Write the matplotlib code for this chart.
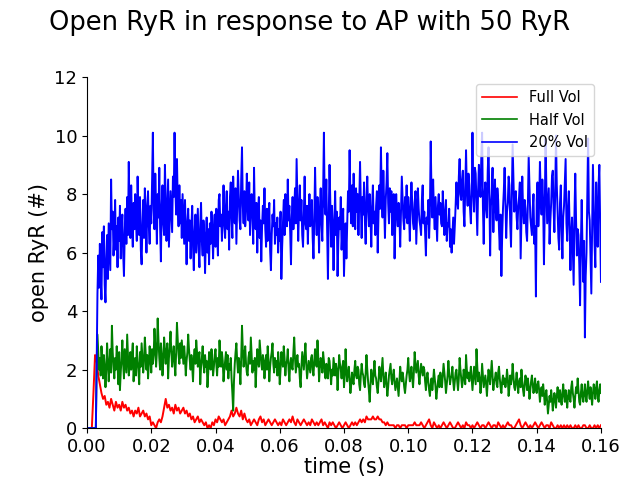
import numpy as np
import matplotlib
matplotlib.use("Agg")
import matplotlib.pyplot as plt

# time grids: 0.25 ms for the reduced-volume runs, 0.5 ms for full volume
t_fine = np.linspace(0, 0.16, 641)
t_coarse = np.linspace(0, 0.16, 321)

# mean number of open RyR, full cleft volume
full_vol = [
    0, 0, 0, 0, 1.2, 2.5, 2.3, 1.8, 1.5, 1.2, 1.0, 1.1, 0.8, 0.9, 0.7, 1.0, 0.8, 0.6, 0.9, 0.7,
    0.8, 0.6, 0.9, 0.7, 0.8, 0.6, 0.7, 0.5, 0.6, 0.4, 0.6, 0.5, 0.7, 0.4, 0.5, 0.6, 0.4, 0.5, 0.3, 0.4,
    0.1, 0.2, 0.1, 0.0, 0.2, 0.3, 0.2, 0.4, 0.7, 1.0, 0.7, 0.8, 0.6, 0.7, 0.5, 0.8, 0.6, 0.7, 0.5, 0.6,
    0.7, 0.5, 0.6, 0.4, 0.5, 0.3, 0.4, 0.2, 0.3, 0.4, 0.2, 0.3, 0.2, 0.1, 0.2, 0.0, 0.1, 0.0, 0.2, 0.1,
    0.3, 0.2, 0.4, 0.3, 0.2, 0.3, 0.1, 0.2, 0.3, 0.4, 0.6, 0.4, 0.5, 0.7, 0.5, 0.4, 0.6, 0.3, 0.5, 0.3,
    0.2, 0.3, 0.1, 0.2, 0.3, 0.2, 0.1, 0.3, 0.4, 0.2, 0.3, 0.1, 0.2, 0.3, 0.2, 0.1, 0.2, 0.3, 0.2, 0.1,
    0.2, 0.1, 0.3, 0.2, 0.1, 0.2, 0.3, 0.2, 0.4, 0.2, 0.1, 0.3, 0.2, 0.1, 0.2, 0.3, 0.2, 0.1, 0.2, 0.1,
    0.3, 0.2, 0.1, 0.2, 0.1, 0.2, 0.3, 0.1, 0.2, 0.1, 0.0, 0.2, 0.1, 0.2, 0.1, 0.0, 0.1, 0.2, 0.1, 0.0,
    0.1, 0.2, 0.1, 0.0, 0.1, 0.2, 0.1, 0.2, 0.1, 0.2, 0.3, 0.2, 0.3, 0.2, 0.4, 0.3, 0.3, 0.3, 0.4, 0.3,
    0.3, 0.4, 0.3, 0.3, 0.2, 0.2, 0.1, 0.2, 0.1, 0.1, 0.1, 0.1, 0.0, 0.1, 0.1, 0.0, 0.1, 0.1, 0.1, 0.0,
    0.1, 0.1, 0.1, 0.1, 0.2, 0.1, 0.1, 0.1, 0.2, 0.1, 0.0, 0.1, 0.2, 0.3, 0.1, 0.0, 0.2, 0.1, 0.0, 0.1,
    0.0, 0.1, 0.2, 0.1, 0.0, 0.1, 0.2, 0.1, 0.0, 0.0, 0.1, 0.2, 0.1, 0.0, 0.1, 0.0, 0.2, 0.1, 0.1, 0.0,
    0.1, 0.0, 0.1, 0.2, 0.1, 0.0, 0.1, 0.1, 0.0, 0.1, 0.2, 0.1, 0.0, 0.1, 0.1, 0.0, 0.2, 0.1, 0.0, 0.1,
    0.0, 0.1, 0.2, 0.1, 0.1, 0.0, 0.0, 0.1, 0.2, 0.3, 0.1, 0.0, 0.1, 0.2, 0.1, 0.0, 0.1, 0.0, 0.1, 0.2,
    0.1, 0.0, 0.1, 0.2, 0.1, 0.0, 0.1, 0.1, 0.0, 0.2, 0.1, 0.0, 0.0, 0.1, 0.0, 0.1, 0.0, 0.1, 0.0, 0.1,
    0.0, 0.1, 0.0, 0.0, 0.1, 0.0, 0.1, 0.0, 0.0, 0.1, 0.1, 0.0, 0.0, 0.1, 0.0, 0.0, 0.1, 0.0, 0.1, 0.0,
    0.1,
]

# half cleft volume
half_vol = [
    0, 0, 0, 0, 0, 0, 0, 0, 0, 0, 0, 0, 2.2, 3.2, 2.6, 2.0, 2.4, 1.8, 2.8, 2.3,
    1.7, 2.5, 2.1, 1.4, 2.0, 2.9, 2.3, 1.6, 2.2, 2.7, 1.9, 3.5, 2.6, 2.1, 1.7, 2.4, 2.0, 2.8, 2.2, 1.5,
    2.6, 1.3, 1.9, 2.4, 3.0, 2.2, 1.7, 2.7, 2.3, 1.9, 3.2, 2.5, 1.8, 2.1, 2.6, 2.0, 2.5, 2.9, 1.6, 2.2,
    2.4, 1.8, 2.8, 2.3, 2.0, 1.5, 2.6, 2.1, 2.9, 2.4, 1.9, 2.3, 3.1, 2.6, 2.0, 2.5, 1.7, 2.2, 2.8, 2.4,
    1.9, 2.7, 2.2, 2.5, 3.4, 2.8, 2.1, 2.6, 3.75, 3.0, 2.4, 2.0, 2.9, 2.5, 1.8, 2.3, 3.1, 2.7, 2.2, 2.6,
    2.9, 1.7, 2.4, 2.8, 3.3, 2.6, 2.1, 2.5, 2.8, 2.2, 1.8, 2.6, 3.6, 3.0, 2.5, 2.2, 2.9, 2.4, 3.0, 2.6,
    2.2, 2.8, 2.4, 1.8, 2.3, 2.6, 3.2, 2.7, 2.3, 2.0, 2.5, 2.1, 1.6, 2.4, 2.7, 2.2, 3.0, 2.6, 2.1, 2.4,
    2.6, 1.5, 2.1, 2.4, 2.8, 2.2, 1.9, 2.5, 2.1, 2.3, 1.4, 1.9, 2.6, 2.2, 2.0, 2.7, 2.3, 1.8, 2.1, 2.5,
    2.7, 2.2, 1.8, 2.4, 2.1, 3.0, 2.5, 2.1, 2.6, 2.3, 1.6, 2.0, 2.3, 2.6, 2.0, 2.5, 1.7, 2.2, 2.0, 2.4,
    1.7, 1.2, 0.6, 1.6, 2.2, 2.6, 2.9, 2.3, 1.9, 2.4, 2.1, 1.5, 2.4, 3.5, 2.7, 2.1, 2.5, 2.8, 2.2, 1.9,
    1.8, 2.4, 2.6, 2.2, 3.1, 2.5, 1.9, 2.3, 2.0, 2.4, 1.4, 2.1, 2.7, 2.3, 2.1, 3.0, 2.6, 2.2, 2.0, 2.5,
    2.3, 1.7, 2.2, 2.5, 2.0, 2.8, 2.3, 1.6, 2.1, 2.4, 2.6, 2.9, 2.2, 1.9, 2.4, 2.1, 2.3, 1.8, 2.6, 2.2,
    1.5, 2.0, 2.6, 2.3, 2.1, 2.8, 2.4, 1.8, 2.2, 2.3, 2.7, 2.0, 1.6, 2.2, 2.4, 2.1, 2.0, 2.6, 3.1, 2.4,
    1.9, 2.2, 2.5, 2.1, 2.2, 1.7, 1.4, 2.1, 2.6, 2.3, 2.0, 2.5, 2.9, 2.2, 1.7, 2.0, 2.3, 2.1, 1.9, 2.4,
    2.5, 2.0, 1.8, 2.3, 2.7, 2.2, 2.1, 3.0, 2.4, 1.6, 2.1, 2.4, 2.2, 1.9, 2.6, 2.3, 1.9, 1.7, 2.2, 2.0,
    1.7, 2.4, 2.3, 1.9, 1.5, 2.0, 1.8, 2.4, 2.1, 1.8, 2.2, 2.0, 1.3, 1.9, 2.5, 2.2, 2.0, 1.7, 2.1, 2.3,
    1.4, 1.8, 2.7, 2.0, 1.6, 1.9, 2.1, 1.7, 1.2, 1.5, 1.9, 1.6, 1.5, 2.0, 2.3, 1.8, 1.7, 2.1, 2.0, 1.5,
    1.3, 1.8, 2.2, 1.9, 1.8, 1.5, 1.4, 1.9, 2.5, 2.0, 1.6, 1.3, 0.9, 1.5, 2.0, 1.7, 1.5, 1.9, 2.3, 1.8,
    1.7, 1.4, 1.2, 1.6, 2.1, 1.9, 1.6, 2.0, 2.4, 1.8, 1.4, 1.6, 1.9, 1.5, 1.1, 1.4, 1.8, 2.0, 2.2, 1.7,
    1.5, 1.8, 2.0, 1.6, 1.3, 1.5, 1.7, 1.4, 1.1, 1.6, 2.1, 1.8, 1.6, 1.9, 1.7, 1.4, 1.2, 1.5, 1.8, 2.0,
    2.4, 1.9, 1.6, 1.8, 2.1, 1.7, 1.4, 1.9, 2.6, 2.2, 1.9, 2.1, 2.3, 1.8, 1.5, 1.9, 2.2, 2.0, 1.8, 2.1,
    2.0, 1.6, 1.3, 1.7, 1.9, 1.6, 1.3, 1.1, 1.5, 1.7, 1.3, 1.6, 2.0, 1.7, 1.4, 1.0, 1.3, 1.6, 1.8, 1.4,
    1.9, 1.6, 1.4, 1.8, 2.2, 1.9, 1.6, 1.2, 1.5, 1.8, 2.3, 1.9, 1.5, 1.7, 1.8, 2.1, 1.6, 1.3, 1.6, 1.9,
    2.0, 1.6, 1.3, 1.7, 2.4, 2.0, 1.7, 1.4, 1.6, 2.0, 1.8, 1.5, 2.5, 2.0, 1.7, 1.9, 1.6, 1.8, 2.1, 1.7,
    1.3, 1.7, 2.1, 1.8, 1.5, 2.7, 2.1, 1.6, 1.9, 1.7, 1.2, 1.6, 2.2, 1.8, 1.4, 1.6, 1.8, 1.5, 1.1, 1.6,
    2.0, 1.7, 1.5, 1.9, 2.3, 1.8, 1.3, 1.6, 1.7, 1.9, 1.5, 1.4, 1.9, 2.1, 1.7, 1.4, 1.2, 1.6, 1.8, 1.5,
    1.7, 1.4, 1.6, 2.0, 1.7, 1.1, 1.4, 1.8, 1.5, 1.7, 2.2, 1.8, 1.4, 1.3, 1.6, 1.9, 1.5, 1.2, 1.6, 1.7,
    1.4, 2.0, 1.6, 1.3, 1.1, 1.5, 1.8, 1.6, 1.3, 1.7, 1.4, 1.0, 1.3, 1.6, 1.8, 1.5, 1.2, 1.4, 1.7, 1.3,
    1.2, 1.5, 1.6, 1.3, 0.9, 1.2, 1.4, 1.1, 1.5, 1.2, 0.8, 1.1, 1.3, 0.9, 0.5, 0.8, 1.1, 0.9, 1.3, 1.0,
    0.6, 0.9, 1.2, 1.0, 0.7, 1.1, 1.4, 1.1, 0.9, 1.3, 1.0, 0.8, 1.2, 1.5, 1.1, 0.9, 1.3, 1.0, 0.7, 1.1,
    1.3, 1.0, 0.9, 1.4, 1.6, 1.2, 1.0, 0.7, 1.1, 1.4, 1.2, 1.7, 1.3, 0.9, 0.8, 1.2, 1.5, 1.1, 0.9, 1.2,
    1.5, 1.1, 0.9, 1.3, 1.6, 1.2, 1.0, 1.4, 1.1, 0.8, 1.2, 1.5, 1.3, 1.0, 1.4, 1.6, 1.1, 0.9, 1.3, 1.5,
    1.2,
]

# 20% cleft volume
vol_20 = [
    0, 0, 0, 0, 0, 0, 0, 0, 0, 0, 0, 0, 2.1, 4.6, 5.9, 4.8, 6.3, 5.2, 4.4, 6.7,
    5.5, 6.9, 4.9, 4.3, 5.8, 6.6, 5.1, 7.0, 6.2, 5.4, 8.5, 6.8, 7.4, 5.9, 6.6, 7.8, 6.1, 6.9, 5.5, 7.2,
    6.4, 7.6, 5.8, 6.8, 7.3, 6.0, 5.2, 6.7, 7.5, 6.3, 7.9, 6.6, 9.1, 7.2, 6.5, 8.3, 7.0, 6.2, 7.7, 6.8,
    8.0, 7.1, 6.4, 8.6, 7.3, 6.6, 7.9, 6.1, 5.6, 7.0, 7.8, 6.5, 8.2, 7.4, 6.0, 7.5, 8.1, 6.9, 6.3, 7.6,
    7.0, 8.4, 10.1, 7.5, 6.8, 8.7, 7.6, 6.3, 8.0, 7.2, 8.9, 6.9, 5.7, 7.6, 8.3, 7.0, 6.6, 9.0, 7.8, 6.4,
    7.5, 8.5, 6.2, 7.1, 8.1, 7.4, 6.7, 8.6, 7.9, 10.1, 8.2, 7.3, 9.2, 7.7, 6.9, 8.3, 7.0, 7.8, 6.5, 8.0,
    7.2, 6.3, 7.8, 6.8, 5.6, 7.0, 7.5, 6.4, 7.1, 5.8, 6.9, 7.6, 6.2, 5.4, 6.7, 7.3, 6.0, 6.8, 7.5, 6.1,
    5.5, 6.9, 7.7, 6.4, 5.9, 7.1, 6.6, 5.3, 6.5, 7.2, 6.0, 6.8, 5.6, 7.0, 6.3, 7.4, 6.7, 5.8, 6.9, 7.3,
    6.2, 7.5, 6.6, 5.9, 7.8, 8.0, 6.9, 7.3, 6.4, 7.1, 8.3, 7.0, 6.5, 7.6, 8.1, 6.8, 7.4, 6.1, 7.9, 8.4,
    7.2, 6.5, 8.6, 7.7, 7.0, 8.2, 6.3, 7.5, 8.8, 7.9, 7.1, 6.8, 8.5, 9.6, 7.6, 7.0, 8.1, 6.9, 7.4, 8.7,
    7.8, 7.1, 8.4, 6.6, 7.3, 8.0, 7.5, 6.3, 8.9, 7.2, 6.8, 7.7, 6.0, 7.4, 7.9, 6.5, 7.1, 5.7, 6.9, 7.6,
    7.0, 8.2, 6.8, 6.2, 7.5, 6.4, 7.1, 7.7, 6.1, 5.4, 6.6, 7.3, 6.9, 7.8, 6.3, 7.0, 6.6, 7.2, 6.0, 6.8,
    6.4, 7.4, 5.1, 6.2, 7.0, 7.8, 6.6, 8.0, 7.3, 6.9, 8.5, 7.1, 7.6, 6.7, 5.6, 7.2, 7.9, 6.8, 7.4, 8.2,
    7.0, 9.2, 7.7, 6.4, 7.5, 8.3, 7.1, 7.8, 6.6, 6.2, 7.3, 8.6, 7.0, 6.8, 7.6, 6.3, 7.4, 8.0, 6.9, 7.2,
    7.8, 6.5, 5.8, 7.1, 8.9, 7.4, 6.6, 7.9, 7.2, 6.0, 7.5, 8.2, 7.0, 6.4, 8.0, 10.1, 7.6, 7.3, 8.5, 6.9,
    5.1, 7.2, 9.0, 7.7, 6.2, 7.6, 6.9, 5.4, 7.0, 8.1, 6.6, 7.4, 5.2, 6.4, 7.2, 6.8, 7.9, 6.1, 6.7, 7.5,
    5.2, 6.3, 7.0, 5.8, 6.9, 8.1, 7.4, 9.5, 7.8, 7.0, 8.3, 6.9, 8.7, 7.5, 6.8, 8.2, 7.4, 8.0, 6.6, 7.7,
    9.1, 7.6, 6.5, 7.9, 7.3, 8.4, 7.1, 6.3, 7.8, 8.6, 7.5, 6.9, 8.0, 7.2, 6.2, 7.6, 8.3, 7.0, 7.4, 6.6,
    7.6, 8.1, 6.0, 7.3, 8.3, 7.5, 9.6, 8.0, 7.2, 8.8, 7.6, 6.5, 7.8, 8.4, 9.4, 7.7, 7.0, 8.2, 7.4, 8.1,
    6.6, 7.5, 8.0, 5.8, 7.1, 8.0, 7.3, 6.9, 7.7, 7.3, 6.2, 7.4, 8.6, 7.8, 7.1, 6.8, 7.9, 7.2, 8.3, 7.0,
    7.9, 7.3, 6.4, 7.6, 8.4, 7.7, 7.0, 6.8, 7.7, 8.1, 6.3, 7.2, 8.2, 7.5, 7.1, 6.9, 6.6, 7.8, 8.3, 7.0,
    7.4, 6.7, 5.9, 7.2, 7.0, 7.8, 6.5, 7.4, 9.8, 8.0, 7.2, 8.5, 7.4, 6.8, 7.9, 7.1, 6.4, 7.6, 8.0, 7.3,
    7.7, 7.0, 6.9, 8.1, 7.4, 6.6, 7.3, 7.8, 6.4, 7.0, 6.9, 7.5, 6.2, 6.8, 6.0, 6.6, 7.2, 6.3, 6.9, 7.6,
    8.4, 7.8, 7.5, 8.6, 9.2, 8.0, 7.8, 8.5, 8.8, 7.4, 6.9, 8.2, 9.5, 8.1, 7.6, 8.7, 8.3, 7.5, 7.0, 8.0,
    10.1, 8.2, 7.4, 8.9, 8.7, 7.7, 6.6, 8.1, 9.0, 8.4, 7.9, 9.3, 10.1, 7.6, 6.3, 8.0, 8.4, 7.5, 7.2, 8.8,
    9.6, 8.0, 5.9, 7.6, 8.0, 8.9, 6.7, 7.8, 8.5, 7.4, 7.1, 8.2, 7.8, 6.8, 6.1, 7.3, 5.2, 6.6, 7.5, 8.1,
    8.9, 7.8, 6.5, 7.4, 7.7, 8.6, 8.3, 7.0, 6.2, 7.9, 9.7, 8.5, 7.4, 7.9, 8.1, 7.2, 6.8, 7.6, 7.9, 8.4,
    5.8, 7.3, 8.6, 7.5, 7.0, 7.8, 7.5, 6.7, 6.4, 7.7, 9.3, 8.2, 7.2, 6.9, 6.6, 7.5, 8.0, 6.3, 6.9, 4.5,
    7.8, 8.4, 6.9, 7.6, 9.1, 8.0, 7.3, 8.5, 7.7, 5.6, 7.4, 9.9, 8.3, 7.0, 7.6, 8.2, 6.3, 7.1, 7.7, 8.6,
    8.8, 7.5, 6.7, 8.0, 10.0, 8.3, 7.4, 6.5, 6.1, 7.7, 8.3, 6.8, 5.8, 7.2, 7.6, 8.4, 9.2, 7.0, 6.4, 7.5,
    8.1, 6.9, 5.4, 6.6, 7.2, 6.0, 4.9, 7.3, 8.7, 7.1, 5.9, 6.8, 6.6, 5.6, 4.2, 6.3, 7.8, 6.2, 5.0, 6.4,
    3.1, 5.2, 6.0, 7.9, 9.9, 7.4, 7.1, 5.8, 4.6, 6.8, 9.0, 7.7, 6.3, 5.5, 8.4, 7.1, 6.2, 8.3, 9.0, 7.0,
    5.0,
]

fig = plt.figure(figsize=(6.26, 4.91), dpi=100)
ax = fig.add_axes([0.139, 0.128, 0.821, 0.715])

ax.plot(t_coarse, full_vol, color="red", lw=1.4, label="Full Vol")
ax.plot(t_fine, half_vol, color="green", lw=1.4, label="Half Vol")
ax.plot(t_fine, vol_20, color="blue", lw=1.4, label="20% Vol")

ax.set_xlim(0, 0.16)
ax.set_ylim(0, 12)
ax.set_xticks(np.arange(0, 0.161, 0.02))
ax.set_yticks(np.arange(0, 13, 2))
ax.tick_params(labelsize=13)
ax.spines["top"].set_visible(False)
ax.spines["right"].set_visible(False)

ax.set_xlabel("time (s)", fontsize=15, labelpad=1)
ax.set_ylabel("open RyR (#)", fontsize=15)
fig.suptitle("Open RyR in response to AP with 50 RyR", fontsize=18.5, x=0.495, y=0.98)

leg = ax.legend(loc="upper right", fontsize=10.5, handlelength=2.4)
for line in leg.get_lines():
    line.set_linewidth(1.2)

fig.savefig("out.png", dpi=100)
